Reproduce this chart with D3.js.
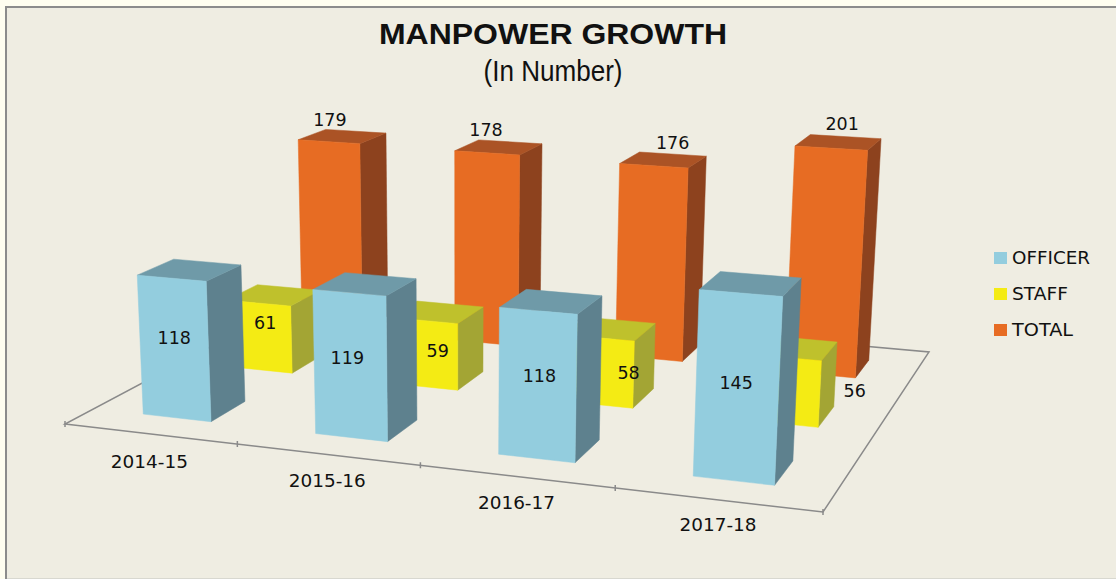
<!DOCTYPE html>
<html>
<head>
<meta charset="utf-8">
<script src="https://cdn.jsdelivr.net/npm/d3@7"></script>
<style>
html, body { margin: 0; padding: 0; background: #fffef0; }
svg { display: block; }
text { fill: #111; font-family: "DejaVu Sans", sans-serif; }
</style>
</head>
<body>
<svg width="1116" height="579"></svg>
<script>
var categories = ['2014-15', '2015-16', '2016-17', '2017-18'],
    seriesNames = ['OFFICER', 'STAFF', 'TOTAL'],
    officer = [118, 119, 118, 145],
    staff = [61, 59, 58, 56],
    total = [179, 178, 176, 201],
    seriesValues = [officer, staff, total];

var frontColors = ['#93cdde', '#f4eb14', '#e76c23'],
    sideColors = ['#5e818e', '#a3a534', '#8d421e'],
    topColors = ['#6f9aa8', '#bfc12c', '#ab5325'];

// floor of the 3d box on screen, and the point the verticals run to
var floorFL = [65, 424], floorFR = [823, 512], floorBR = [929, 352], floorBL = [306, 296],
    vertVP = [460, 7744],
    perUnit = -0.00016;

// manual label placement from the original, series > category
var labelNudge = [
    [[0, -11], [-3, -8], [2, -10], [-1, -5]],
    [[6, -14], [14, -3], [31, 1], [73, 0]],
    [[1, -22], [-1, -23], [19, -23], [11, -24]]
];
var categoryDrop = [34, 33, 33, 31];

var svg = d3.select('svg');

svg.append('rect').attr('x', 6).attr('y', 7).attr('width', 1120).attr('height', 572)
    .attr('fill', '#efede2').attr('stroke', '#8c8c8c').attr('stroke-width', 2);
svg.append('line').attr('x1', 7).attr('x2', 1116).attr('y1', 578.5).attr('y2', 578.5).attr('stroke', '#d8d8d0');

// square to quad homography for the floor
var sx = floorFL[0] - floorFR[0] + floorBR[0] - floorBL[0],
    sy = floorFL[1] - floorFR[1] + floorBR[1] - floorBL[1],
    dx1 = floorFR[0] - floorBR[0], dx2 = floorBL[0] - floorBR[0],
    dy1 = floorFR[1] - floorBR[1], dy2 = floorBL[1] - floorBR[1],
    det = dx1 * dy2 - dx2 * dy1,
    g = (sx * dy2 - dx2 * sy) / det,
    h = (dx1 * sy - sx * dy1) / det,
    a = floorFR[0] - floorFL[0] + g * floorFR[0],
    b = floorBL[0] - floorFL[0] + h * floorBL[0],
    d = floorFR[1] - floorFL[1] + g * floorFR[1],
    e = floorBL[1] - floorFL[1] + h * floorBL[1];

var xScale = d3.scaleBand().domain(categories).range([-0.001, 1.001]).paddingInner(0.6).paddingOuter(0.3),
    zScale = d3.scaleBand().domain(seriesNames).range([0, 1]).paddingInner(0.6).paddingOuter(0.3),
    yScale = d3.scaleLinear().domain([0, 201]).range([0, 201 * perUnit]),
    colorScale = d3.scaleOrdinal().domain(seriesNames).range(frontColors);

function project(u, v, value) {
    var t = yScale(value),
        w = g * u + h * v + t + 1;
    return [
        (a * u + b * v + vertVP[0] * t + floorFL[0]) / w,
        (d * u + e * v + vertVP[1] * t + floorFL[1]) / w
    ];
}

var line = d3.line();

function closed(pts) { return line(pts) + 'Z'; }

// floor outline, back edges first so the bars cover them
svg.append('path')
    .attr('d', closed([project(0, 0, 0), project(1, 0, 0), project(1, 1, 0), project(0, 1, 0)]))
    .attr('fill', 'none').attr('stroke', '#8a8a8a').attr('stroke-width', 1.5);

// category ticks on the front edge
var tickPos = categories.map(function(c, i) { return i / categories.length; }).concat([1]);
svg.append('g').selectAll('line').data(tickPos).enter().append('line')
    .attr('x1', function(t) { return project(t, 0, 0)[0]; })
    .attr('x2', function(t) { return project(t, 0, 0)[0]; })
    .attr('y1', function(t) { return project(t, 0, 0)[1] - 3; })
    .attr('y2', function(t) { return project(t, 0, 0)[1] + 3; })
    .attr('stroke', '#8a8a8a').attr('stroke-width', 1.5);

svg.append('g').selectAll('text').data(categories).enter().append('text')
    .attr('x', function(c) { return project(xScale(c) + xScale.bandwidth() / 2, 0, 0)[0]; })
    .attr('y', function(c, i) { return project(xScale(c) + xScale.bandwidth() / 2, 0, 0)[1] + categoryDrop[i]; })
    .attr('text-anchor', 'middle').attr('font-size', 17)
    .attr('textLength', 77).attr('lengthAdjust', 'spacingAndGlyphs')
    .text(function(c) { return c; });

// rows back to front
var rows = seriesNames.map(function(name, s) {
    return categories.map(function(c, i) {
        var u0 = xScale(c), u1 = u0 + xScale.bandwidth(),
            v0 = zScale(name), v1 = v0 + zScale.bandwidth();
        return { s: s, i: i, u0: u0, u1: u1, v0: v0, v1: v1, value: seriesValues[s][i] };
    });
}).reverse();

var barsG = svg.append('g');

rows.forEach(function(row) {
    var bar = barsG.append('g').selectAll('g').data(row).enter().append('g');

    bar.append('path')
        .attr('d', function(k) {
            return closed([project(k.u1, k.v0, 0), project(k.u1, k.v1, 0), project(k.u1, k.v1, k.value), project(k.u1, k.v0, k.value)]);
        })
        .attr('fill', function(k) { return sideColors[k.s]; })
        .attr('stroke', function(k) { return sideColors[k.s]; }).attr('stroke-width', 0.5);

    bar.append('path')
        .attr('d', function(k) {
            return closed([project(k.u0, k.v0, k.value), project(k.u1, k.v0, k.value), project(k.u1, k.v1, k.value), project(k.u0, k.v1, k.value)]);
        })
        .attr('fill', function(k) { return topColors[k.s]; })
        .attr('stroke', function(k) { return topColors[k.s]; }).attr('stroke-width', 0.5);

    bar.append('path')
        .attr('d', function(k) {
            return closed([project(k.u0, k.v0, 0), project(k.u1, k.v0, 0), project(k.u1, k.v0, k.value), project(k.u0, k.v0, k.value)]);
        })
        .attr('fill', function(k) { return frontColors[k.s]; })
        .attr('stroke', function(k) { return frontColors[k.s]; }).attr('stroke-width', 0.5);
});

// data labels go on top of every bar
var labels = d3.merge(rows);
svg.append('g').selectAll('text').data(labels).enter().append('text')
    .attr('transform', function(k) {
        // totals sit above the bar, the others mid face
        var level = k.s === 2 ? k.value : k.value / 2,
            p = project((k.u0 + k.u1) / 2, k.v0, level),
            n = labelNudge[k.s][k.i];
        return 'translate(' + (p[0] + n[0]) + ',' + (p[1] + n[1]) + ')';
    })
    .attr('text-anchor', 'middle').attr('dy', '0.36em').attr('font-size', 17.5)
    .text(function(k) { return k.value; });

// title
svg.append('text').attr('x', 553).attr('y', 44).attr('text-anchor', 'middle')
    .style('font-family', '"Liberation Sans", Arial, sans-serif')
    .attr('font-weight', 'bold').attr('font-size', 30)
    .attr('textLength', 348).attr('lengthAdjust', 'spacingAndGlyphs')
    .text('MANPOWER GROWTH');
svg.append('text').attr('x', 553).attr('y', 81).attr('text-anchor', 'middle')
    .style('font-family', '"Liberation Sans", Arial, sans-serif')
    .attr('font-size', 29)
    .attr('textLength', 139).attr('lengthAdjust', 'spacingAndGlyphs')
    .text('(In Number)');

// legend
var legend = svg.append('g').selectAll('g').data(seriesNames).enter().append('g')
    .attr('transform', function(n, i) { return 'translate(994,' + (252 + i * 36) + ')'; });
legend.append('rect').attr('width', 13).attr('height', 12)
    .attr('fill', function(n) { return colorScale(n); });
legend.append('text').attr('x', 18).attr('y', 12).attr('font-size', 17)
    .attr('textLength', function(n) { return { OFFICER: 78, STAFF: 56, TOTAL: 61 }[n]; })
    .attr('lengthAdjust', 'spacingAndGlyphs')
    .text(function(n) { return n; });
</script>
</body>
</html>
